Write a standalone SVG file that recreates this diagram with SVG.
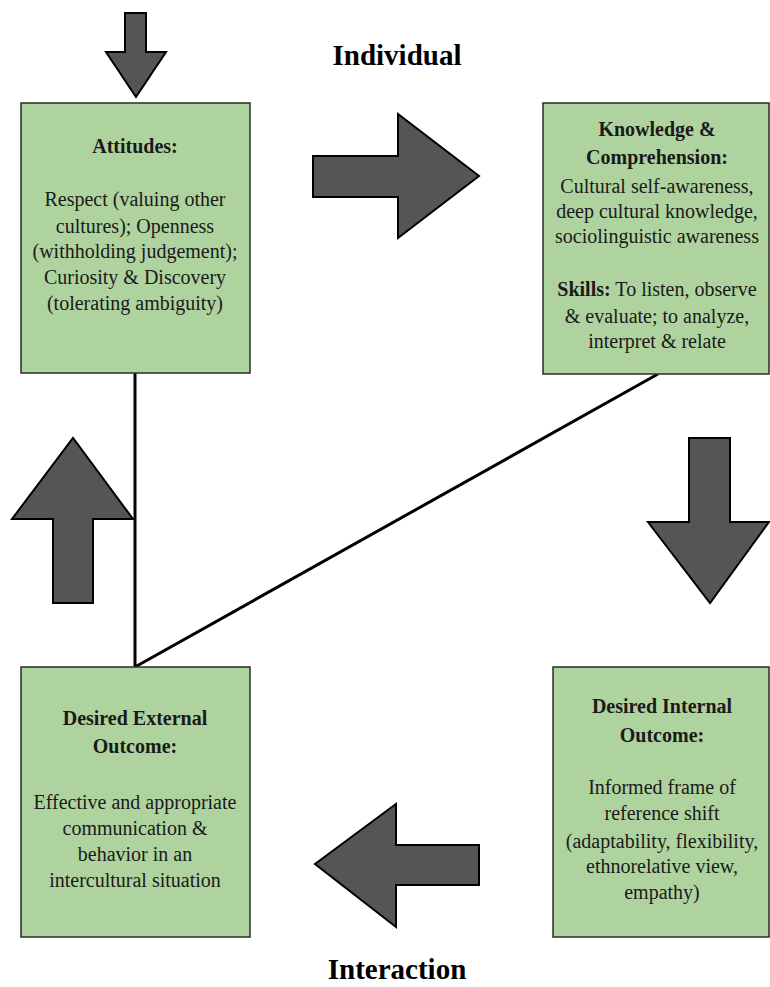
<svg xmlns="http://www.w3.org/2000/svg" width="770" height="987" viewBox="0 0 770 987">
<style>
.box{fill:#afd39f;stroke:#2b2b2b;stroke-width:1.5}
.arr{fill:#555555;stroke:#000;stroke-width:2;stroke-linejoin:miter}
.conn{stroke:#000;stroke-width:3;fill:none}
text{font-family:"Liberation Serif","Times New Roman",serif;fill:#1a1a1a;text-anchor:middle}
.t{font-size:20px}
.b{font-weight:bold}
.h{font-size:29px;font-weight:bold;fill:#000}
</style>
<rect width="770" height="987" fill="#fff"/>
<g id="connectors">
<line class="conn" x1="135" y1="373" x2="135" y2="667"/>
<line class="conn" x1="135" y1="667" x2="658" y2="374"/>
</g>
<g id="arrow-top"><polygon class="arr" points="125,13 146,13 146,52 166,52 136,97 106,52 125,52"/></g>
<g id="arrow-right"><polygon class="arr" points="313,156 398,156 398,114 479,176 398,238 398,197 313,197"/></g>
<g id="arrow-down"><polygon class="arr" points="689,438 730,438 730,522 769,522 710,603 648,522 689,522"/></g>
<g id="arrow-left"><polygon class="arr" points="479,845 396,845 396,804 315,864 396,927 396,885 479,885"/></g>
<g id="arrow-up"><polygon class="arr" points="53,603 93,603 93,519 133,519 73,438 12,519 53,519"/></g>
<g id="title-individual"><text class="h" x="397" y="65">Individual</text></g>
<g id="title-interaction"><text class="h" x="397" y="979">Interaction</text></g>
<g id="attitudes">
<rect class="box" x="21" y="103" width="229" height="270"/>
<text class="t b" x="135" y="153">Attitudes:</text>
<text class="t" x="135" y="206">Respect (valuing other</text>
<text class="t" x="135" y="233">cultures); Openness</text>
<text class="t" x="135" y="258">(withholding judgement);</text>
<text class="t" x="135" y="284">Curiosity &amp; Discovery</text>
<text class="t" x="135" y="310">(tolerating ambiguity)</text>
</g>
<g id="knowledge">
<rect class="box" x="543" y="103" width="226" height="271"/>
<text class="t b" x="657" y="136">Knowledge &amp;</text>
<text class="t b" x="657" y="164">Comprehension:</text>
<text class="t" x="657" y="193">Cultural self-awareness,</text>
<text class="t" x="657" y="218">deep cultural knowledge,</text>
<text class="t" x="657" y="243">sociolinguistic awareness</text>
<text class="t" x="657" y="296"><tspan class="b">Skills:</tspan> To listen, observe</text>
<text class="t" x="657" y="323">&amp; evaluate; to analyze,</text>
<text class="t" x="657" y="348">interpret &amp; relate</text>
</g>
<g id="internal">
<rect class="box" x="553" y="667" width="216" height="270"/>
<text class="t b" x="662" y="713">Desired Internal</text>
<text class="t b" x="662" y="742">Outcome:</text>
<text class="t" x="662" y="794">Informed frame of</text>
<text class="t" x="662" y="820">reference shift</text>
<text class="t" x="662" y="848">(adaptability, flexibility,</text>
<text class="t" x="662" y="873">ethnorelative view,</text>
<text class="t" x="662" y="899">empathy)</text>
</g>
<g id="external">
<rect class="box" x="21" y="667" width="229" height="270"/>
<text class="t b" x="135" y="725">Desired External</text>
<text class="t b" x="135" y="753">Outcome:</text>
<text class="t" x="135" y="809">Effective and appropriate</text>
<text class="t" x="135" y="835">communication &amp;</text>
<text class="t" x="135" y="861">behavior in an</text>
<text class="t" x="135" y="887">intercultural situation</text>
</g>
</svg>
